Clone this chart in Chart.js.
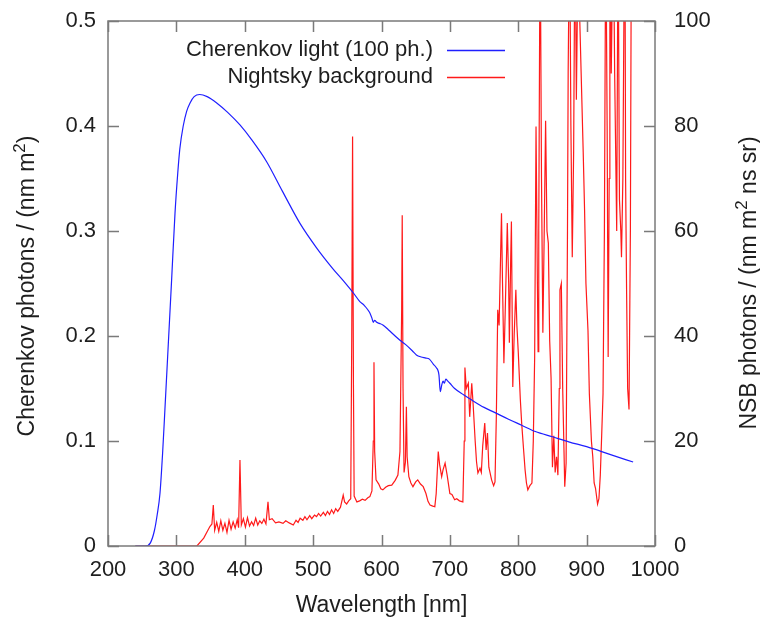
<!DOCTYPE html>
<html>
<head>
<meta charset="utf-8">
<script src="https://cdn.jsdelivr.net/npm/chart.js@4.4.1/dist/chart.umd.min.js"></script>
<style>
html,body{margin:0;padding:0;background:#fff;}
#wrap{width:760px;height:621px;position:relative;}
</style>
</head>
<body>
<div id="wrap"><canvas id="c" width="760" height="621"></canvas></div>
<script>
// ---- data ----
const cherWavelength = [240,255,262,268,272,276,280,283,288,293,298,302,305,310,315,320,326,334,345,359,375,393,410,432,455,481,505,529,545,560,568,575,580,583,586,588,590,593,597,602,610,620,627,635,645,651,658,665,670,676,680,684,686,688,690,692,694,697,700,707,720,732,750,766,785,805,825,850,875,900,935,968];
const cherValues     = [0,0,0.003,0.015,0.03,0.05,0.09,0.127,0.19,0.253,0.317,0.355,0.378,0.400,0.414,0.422,0.428,0.430,0.428,0.422,0.413,0.401,0.387,0.366,0.338,0.307,0.284,0.264,0.252,0.240,0.233,0.229,0.225,0.222,0.217,0.213,0.215,0.213,0.212,0.2105,0.206,0.200,0.196,0.192,0.186,0.182,0.180,0.179,0.178,0.173,0.170,0.163,0.147,0.153,0.157,0.155,0.159,0.157,0.155,0.150,0.144,0.139,0.132,0.127,0.121,0.115,0.109,0.104,0.099,0.0946,0.087,0.080];

const nsbWavelength = [240,330,340,349,352,354,356,359,362,365,368,371,374,377,380,383,386,389,391,393,395,398,401,404,407,410,413,416,419,422,425,428,431,434,436,440,445,450,456,460,465,471,475,478,481,485,488,491,495,498,502,505,508,511,515,518,521,524,527,530,533,536,540,544,546,549,552,555,556.5,557.7,559,560,564,568,572,576,580,583,586,588,589,590,592,596,599,602,606,610,615,620,624,627,629.5,630.3,631.5,633,635,636.4,637.5,640,643,646,650,653,657,661,665,668,671,675,678,680,683,685,688,690,693,696,700,703,707,710,714,719,721,722,724,727,729,732,734,737,739,741,744,746,748,751,753,755,757,761,764,766,768,770,772,775.5,777,779,781,784,786,787,789,790,792,794,796.5,798,800,803,805,808,810,812,814,817,820,822,824,826,828,829,830,832,834,836,838,840,842,844,846,848,850,852,854,856,858,860,861,863,865,868,870,872,873,875,877,879,881,883,885,888,890,892,895,897,899,902,904,907,909,911,913,916,918,920,922,924,926,928,930,931.5,933,934,936,939,941,943,944,946,948,950,951,953,955,956,957,958.5,960,962,964,965.5];
const nsbValues     = [0,0,1.5,3.7,4.2,7.8,3.0,4.5,2.8,4.8,3.0,4.3,2.6,4.9,3.2,4.6,3.4,5.0,3.5,16.4,4.0,5.2,3.6,5.4,3.8,4.6,3.9,5.3,4.0,4.8,4.3,5.1,4.2,8.4,5.0,5.2,4.4,4.6,4.3,4.8,4.4,4.0,4.9,4.5,5.3,4.9,5.6,5.0,5.8,5.2,5.9,5.6,6.2,5.7,6.4,5.8,6.6,6.0,6.9,6.2,7.1,6.6,7.4,9.7,8.4,8.0,8.6,9.0,40,78,30,9.5,8.4,8.6,8.9,8.7,9.2,9.4,10.5,20,35,18,12.6,11.8,10.9,10.7,11.2,11.5,11.6,12.5,13.5,18,45,63,30,14,16,26.5,17,13.2,12.0,11.3,12.2,12.6,11.8,11.3,10.0,8.5,7.8,7.6,7.5,10,18,15.5,13.2,14.5,15.8,13.5,10.0,9.8,8.8,9.0,8.6,8.4,20,34,30,31,24.6,31,27,20,16,13.9,14.8,14.0,19,23.4,18.3,21.5,15,12.6,11.5,12.2,25,45,42,63.4,50,34.8,45,61.5,50,38.7,55,61.8,30.3,40,48.8,42,37,28,23.4,18,14.5,12,10.7,11.5,12,20,36,79.9,50,37,60,120,70,40.6,60,81,60,57.7,39,32,15,21,14,17,13.5,30,48.8,50,30,11.3,15.8,60,90,120,80,55,75,120,85,120,100,90,75,64,50,41,29,20,17,12,11,8,9,13.5,21,29,60,120,80,36,70,120,90,120,90,70,60,120,66,60,55,70,110,120,70,48,30,26,60,120];

const xTicks  = [200,300,400,500,600,700,800,900,1000];
const yTicks  = [0,0.1,0.2,0.3,0.4,0.5];
const y2Ticks = [0,20,40,60,80,100];

const seriesNames = ['Cherenkov light (100 ph.)','Nightsky background'];
const xTitle  = 'Wavelength [nm]';
// axis titles as [text, superscript] runs
const yTitleRuns  = [['Cherenkov photons / (nm m', false], ['2', true], [')', false]];
const y2TitleRuns = [['NSB photons / (nm m', false], ['2', true], [' ns sr)', false]];

// ---- styles ----
const FONT = '"Liberation Sans", Arial, sans-serif';
const FS = 22;
const TFS = 23;
const TXT = '#1e1e1e';
const BLUE = '#1f1fff';
const RED = '#ff1a1a';
const FRAME = '#7a7a7a';

function drawRuns(ctx, runs, cx, cy) {
  ctx.save();
  ctx.translate(cx, cy);
  ctx.rotate(-Math.PI / 2);
  ctx.textAlign = 'left';
  ctx.textBaseline = 'middle';
  const fonts = runs.map(r => (r[1] ? Math.round(TFS * 0.75) : TFS) + 'px ' + FONT);
  let total = 0;
  const widths = runs.map((r, i) => { ctx.font = fonts[i]; const w = ctx.measureText(r[0]).width; total += w; return w; });
  let x = -total / 2;
  runs.forEach((r, i) => {
    ctx.font = fonts[i];
    ctx.fillText(r[0], x, r[1] ? -8 : 0);
    x += widths[i];
  });
  ctx.restore();
}

const framePlugin = {
  id: 'frame',
  afterDatasetsDraw(chart) {
    const {ctx, chartArea: a, scales} = chart;
    ctx.save();
    ctx.strokeStyle = FRAME;
    ctx.lineWidth = 1.5;
    ctx.strokeRect(a.left, a.top, a.right - a.left, a.bottom - a.top);
    const TL = 11;
    ctx.beginPath();
    xTicks.forEach(v => {
      const px = Math.round(scales.x.getPixelForValue(v)) + 0.5;
      ctx.moveTo(px, a.bottom); ctx.lineTo(px, a.bottom - TL);
      ctx.moveTo(px, a.top); ctx.lineTo(px, a.top + TL);
    });
    yTicks.forEach(v => {
      const py = Math.round(scales.y.getPixelForValue(v)) + 0.5;
      ctx.moveTo(a.left, py); ctx.lineTo(a.left + TL, py);
    });
    y2Ticks.forEach(v => {
      const py = Math.round(scales.y2.getPixelForValue(v)) + 0.5;
      ctx.moveTo(a.right, py); ctx.lineTo(a.right - TL, py);
    });
    ctx.stroke();

    // legend
    ctx.font = FS + 'px ' + FONT;
    ctx.fillStyle = TXT;
    ctx.textAlign = 'right';
    ctx.textBaseline = 'middle';
    const cols = [BLUE, RED];
    const ys = [50, 77];
    seriesNames.forEach((n, i) => {
      ctx.fillText(n, 433, ys[i]);
      ctx.strokeStyle = cols[i];
      ctx.lineWidth = 1.3;
      ctx.beginPath();
      ctx.moveTo(447, ys[i] + 0.5); ctx.lineTo(505, ys[i] + 0.5);
      ctx.stroke();
    });

    // axis titles
    ctx.fillStyle = TXT;
    ctx.font = TFS + 'px ' + FONT;
    ctx.textAlign = 'center';
    ctx.textBaseline = 'middle';
    ctx.fillText(xTitle, (a.left + a.right) / 2, 606);
    drawRuns(ctx, yTitleRuns, 28, 286);
    drawRuns(ctx, y2TitleRuns, 750, 283);
    ctx.restore();
  }
};

const plainLabel = v => String(v);
const noPad = s => { s.paddingTop = 0; s.paddingBottom = 0; s.paddingLeft = 0; s.paddingRight = 0; };

new Chart(document.getElementById('c'), {
  type: 'line',
  data: {
    datasets: [
      {
        label: seriesNames[0],
        data: cherWavelength.map((x, i) => ({x, y: cherValues[i]})),
        yAxisID: 'y',
        borderColor: BLUE,
        borderWidth: 1.2,
        pointRadius: 0,
        cubicInterpolationMode: 'monotone',
        fill: false
      },
      {
        label: seriesNames[1],
        data: nsbWavelength.map((x, i) => ({x, y: nsbValues[i]})),
        yAxisID: 'y2',
        borderColor: RED,
        borderWidth: 1.2,
        pointRadius: 0,
        tension: 0,
        fill: false
      }
    ]
  },
  options: {
    responsive: false,
    animation: false,
    events: [],
    layout: {padding: {top: 21, left: 0, right: 0, bottom: 0}},
    plugins: {legend: {display: false}, tooltip: {enabled: false}},
    scales: {
      x: {
        type: 'linear', min: 200, max: 1000,
        afterBuildTicks: s => { s.ticks = xTicks.map(v => ({value: v})); },
        afterFit: s => { s.height = 75; noPad(s); },
        grid: {display: false, drawTicks: false},
        border: {display: false},
        ticks: {padding: 11, color: TXT, font: {family: FONT, size: FS}, maxRotation: 0, callback: plainLabel}
      },
      y: {
        type: 'linear', position: 'left', min: 0, max: 0.5,
        afterBuildTicks: s => { s.ticks = yTicks.map(v => ({value: v})); },
        afterFit: s => { s.width = 108; noPad(s); },
        grid: {display: false, drawTicks: false},
        border: {display: false},
        ticks: {padding: 12, color: TXT, font: {family: FONT, size: FS}, callback: plainLabel}
      },
      y2: {
        type: 'linear', position: 'right', min: 0, max: 100,
        afterBuildTicks: s => { s.ticks = y2Ticks.map(v => ({value: v})); },
        afterFit: s => { s.width = 105; noPad(s); },
        grid: {display: false, drawTicks: false},
        border: {display: false},
        ticks: {padding: 19, color: TXT, font: {family: FONT, size: FS}, callback: plainLabel}
      }
    }
  },
  plugins: [framePlugin]
});
</script>
</body>
</html>
